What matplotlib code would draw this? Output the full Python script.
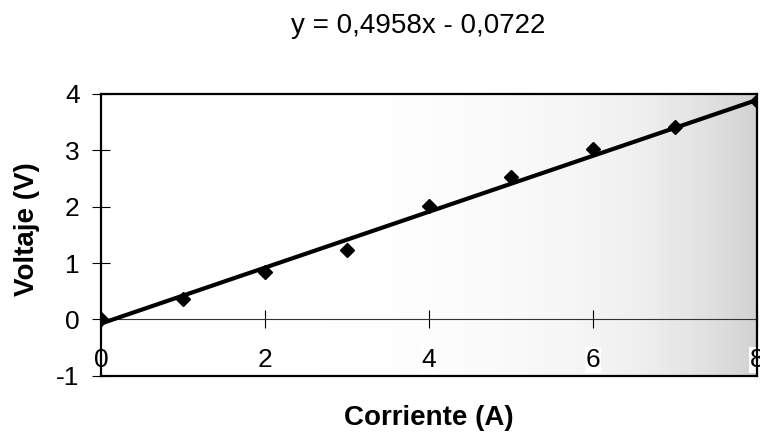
import numpy as np
import matplotlib
matplotlib.use("Agg")
import matplotlib.pyplot as plt

# Datos
corriente = [0, 1, 2, 3, 4, 5, 6, 7, 8]
voltaje = [0.0, 0.36, 0.84, 1.23, 2.01, 2.52, 3.03, 3.42, 3.88]
pendiente = 0.4958
intercepto = -0.0722
x_ticks = [0, 2, 4, 6, 8]
y_ticks = [-1, 0, 1, 2, 3, 4]

plt.rcParams['font.family'] = ['Liberation Sans', 'DejaVu Sans']

fig = plt.figure(figsize=(7.6, 4.37), dpi=100)
ax = fig.add_axes([0.133, 0.14, 0.863, 0.645])

# fondo gris suave (mas oscuro a la derecha, como el escaneo)
ax.imshow(np.tile(np.linspace(0, 1, 256) ** 4, (2, 1)), cmap='Greys', vmin=0, vmax=3.5,
          extent=[0, 1, 0, 1], transform=ax.transAxes, aspect='auto', zorder=0)

# linea de tendencia
xt = np.array([corriente[0], corriente[-1]])
ax.plot(xt, pendiente * xt + intercepto, color='black', linewidth=3.0, zorder=3)

# puntos
ax.plot(corriente, voltaje, 'D', color='black', markersize=7, zorder=4)

ax.set_xlim(0, 8)
ax.set_ylim(-1, 4)

for s in ax.spines.values():
    s.set_linewidth(1.6)
    s.set_color('black')

ax.set_yticks(y_ticks)
ax.set_yticklabels([str(v) for v in y_ticks])
ax.tick_params(axis='y', direction='inout', length=13, width=0.8, pad=9, labelsize=19)

ax.set_xticks(x_ticks)
ax.set_xticklabels([str(v) for v in x_ticks])
ax.tick_params(axis='x', length=0, pad=-20, labelsize=19)
for lab in ax.get_xticklabels():
    lab.set_bbox(dict(facecolor='white', edgecolor='none', pad=0.5))

# eje x en y = 0
sec = ax.secondary_xaxis(0.2)
sec.set_xticks(x_ticks)
sec.tick_params(direction='inout', length=13, width=0.8, labelbottom=False)
sec.spines['bottom'].set_linewidth(0.8)
sec.spines['bottom'].set_color('#333333')

ax.set_xlabel('Corriente (A)', fontsize=20, fontweight='bold')
ax.xaxis.set_label_coords(0.5, -0.105)
ax.set_ylabel('Voltaje (V)', fontsize=20, fontweight='bold')
ax.yaxis.set_label_coords(-0.093, 0.52)

fig.text(0.55, 0.94, 'y = 0,4958x - 0,0722', fontsize=20, ha='center', va='center')

fig.savefig('out.png', dpi=100)
